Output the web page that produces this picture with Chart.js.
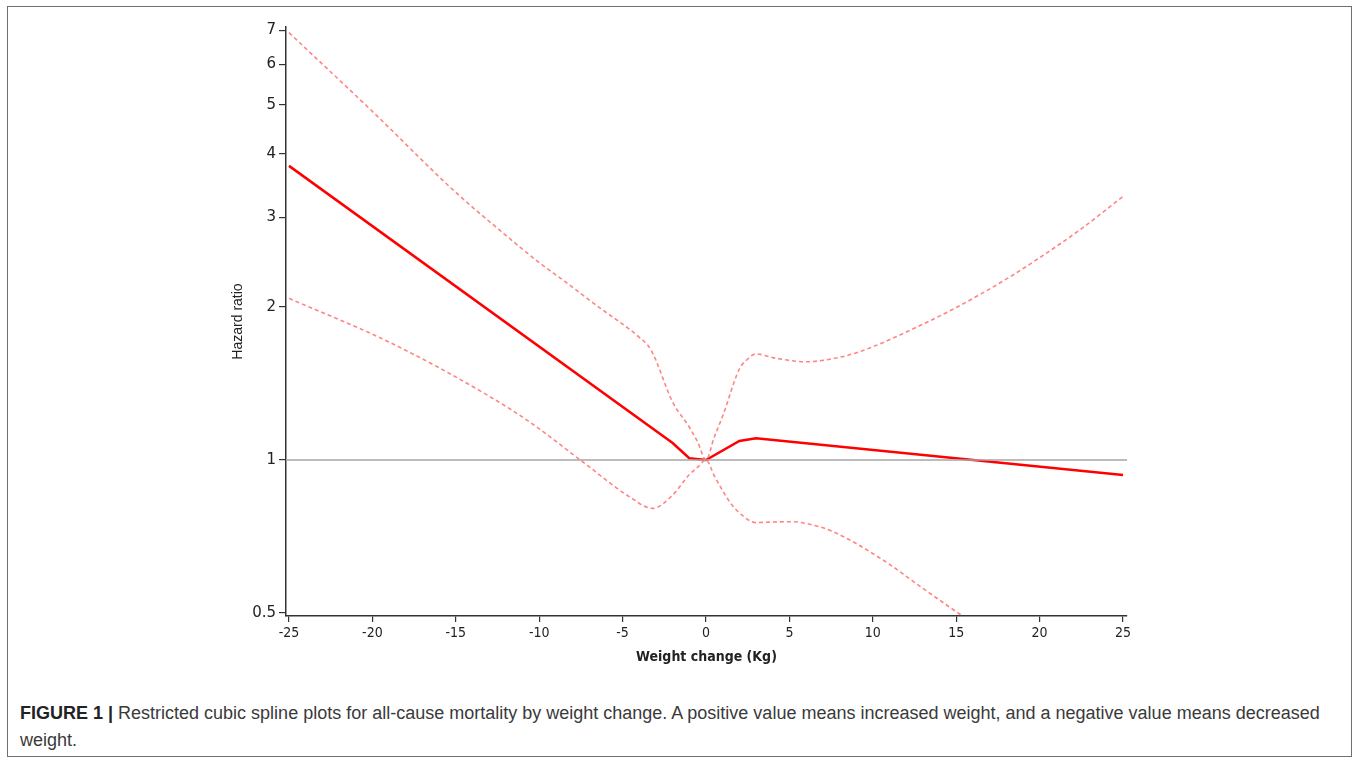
<!DOCTYPE html>
<html>
<head>
<meta charset="utf-8">
<script src="https://cdn.jsdelivr.net/npm/chart.js@4.4.0/dist/chart.umd.min.js"></script>
<style>
  html, body { margin: 0; padding: 0; background: #fff; }
  #page { position: relative; width: 1357px; height: 761px; overflow: hidden; }
  #frame { position: absolute; left: 7px; top: 6px; width: 1343px; height: 749px; border: 1.5px solid #6f6f6f; }
  #chart { position: absolute; left: 0; top: 0; }
  #caption { position: absolute; left: 20px; top: 700px; font-family: "Liberation Sans", Arial, sans-serif;
             font-size: 18px; line-height: 27px; color: #3a3a3a; white-space: nowrap; }
  #caption b { color: #222; }
</style>
</head>
<body>
<div id="page">
  <div id="frame"></div>
  <canvas id="chart" width="1357" height="690"></canvas>
  <div id="caption"><b>FIGURE 1 |</b> Restricted cubic spline plots for all-cause mortality by weight change. A positive value means increased weight, and a negative value means decreased<br>weight.</div>
</div>
<script>
// --- data ---
const xTicks = [-25, -20, -15, -10, -5, 0, 5, 10, 15, 20, 25];
const yTicks = [0.5, 1, 2, 3, 4, 5, 6, 7];

// fitted hazard ratio (solid)
const fitX  = [-25, -2, -1, 0, 2, 3, 25];
const fitHR = [3.79, 1.08, 1.008, 1.0, 1.09, 1.103, 0.934];

// upper 95% CI (dashed)
const upperX  = [-25, -20, -15, -12.3, -10, -8.5, -6.35, -5, -4.15, -3.3, -2, -1, -0.5, 0, 0.5, 1, 2, 2.5, 3, 4, 5, 6, 7, 8.6, 10, 11.6, 15, 18.2, 20, 22.5, 25];
const upperHR = [6.93, 4.85, 3.36, 2.82, 2.445, 2.25, 1.99, 1.85, 1.76, 1.646, 1.30, 1.16, 1.085, 1.0, 1.11, 1.22, 1.51, 1.58, 1.617, 1.59, 1.57, 1.56, 1.57, 1.61, 1.67, 1.76, 1.995, 2.29, 2.50, 2.85, 3.30];

// lower 95% CI (dashed)
const lowerX  = [-25, -18.9, -12.95, -10.4, -7.4, -4.6, -3.2, -2, -1, -0.5, 0, 0.5, 1, 1.5, 2, 3, 4, 5.2, 6, 7.6, 10.6, 13, 15.3];
const lowerHR = [2.08, 1.70, 1.332, 1.177, 0.992, 0.847, 0.803, 0.853, 0.936, 0.968, 1.0, 0.93, 0.87, 0.82, 0.787, 0.753, 0.755, 0.756, 0.75, 0.723, 0.636, 0.559, 0.495];

// reference line HR = 1
const refX  = [-25.18, 25.24];
const refHR = [1, 1];

const toPts = (xs, ys) => xs.map((x, i) => ({ x: x, y: ys[i] }));

const ciRed = 'rgba(255, 110, 110, 0.85)';

new Chart(document.getElementById('chart'), {
    type: 'line',
    data: {
        datasets: [
            { data: toPts(refX, refHR), borderColor: '#a6a6a6', borderWidth: 1.5, pointRadius: 0, tension: 0 },
            { data: toPts(lowerX, lowerHR), borderColor: ciRed, borderWidth: 1.6, borderDash: [4, 3], pointRadius: 0, cubicInterpolationMode: 'monotone' },
            { data: toPts(upperX, upperHR), borderColor: ciRed, borderWidth: 1.6, borderDash: [4, 3], pointRadius: 0, cubicInterpolationMode: 'monotone' },
            { data: toPts(fitX, fitHR), borderColor: '#ff0000', borderWidth: 2.5, pointRadius: 0, tension: 0 }
        ]
    },
    options: {
        responsive: false,
        animation: false,
        events: [],
        layout: { padding: { left: 226, right: 230, top: 27, bottom: 20 } },
        plugins: { legend: { display: false }, tooltip: { enabled: false } },
        scales: {
            x: {
                type: 'linear',
                min: -25.18,
                max: 25.24,
                afterBuildTicks: (scale) => { scale.ticks = xTicks.map(v => ({ value: v })); },
                afterFit: (scale) => { scale.height = 54; },
                border: { display: true, color: '#333', width: 1.5 },
                grid: { drawOnChartArea: false, drawTicks: true, tickLength: 6, tickColor: '#333', lineWidth: 1.2 },
                ticks: { color: '#222', padding: 3, maxRotation: 0, autoSkip: false,
                         font: { family: '"DejaVu Sans Condensed", "DejaVu Sans", sans-serif', size: 14 } },
                title: { display: true, text: 'Weight change (Kg)', color: '#222', padding: { top: 4, bottom: 4 },
                         font: { family: '"DejaVu Sans Condensed", "DejaVu Sans", sans-serif', size: 14, weight: 'bold' } }
            },
            y: {
                type: 'logarithmic',
                min: 0.4932,
                max: 7.11,
                afterBuildTicks: (scale) => { scale.ticks = yTicks.map(v => ({ value: v })); },
                afterFit: (scale) => { scale.width = 60; },
                border: { display: true, color: '#333', width: 1.5 },
                grid: { drawOnChartArea: false, drawTicks: true, tickLength: 7, tickColor: '#333', lineWidth: 1.2 },
                ticks: { color: '#222', padding: 3, autoSkip: false,
                         callback: (v) => String(v),
                         font: { family: '"DejaVu Sans", sans-serif', size: 15 } },
                title: { display: true, text: 'Hazard ratio', color: '#222', padding: { top: 4, bottom: 4 },
                         font: { family: '"Liberation Sans", Arial, sans-serif', size: 14 } }
            }
        }
    }
});
</script>
</body>
</html>
